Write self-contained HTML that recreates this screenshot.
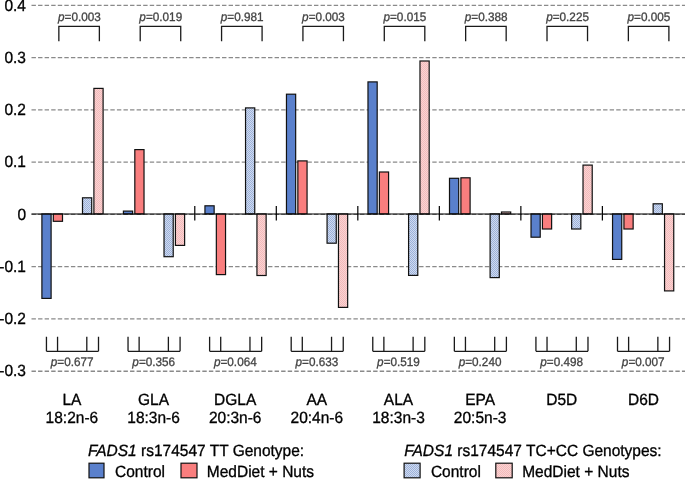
<!DOCTYPE html>
<html><head><meta charset="utf-8"><style>
html,body{margin:0;padding:0;background:#fff;}
body{width:685px;height:480px;overflow:hidden;}
svg{display:block;font-family:"Liberation Sans",sans-serif;text-rendering:geometricPrecision;will-change:transform;}
</style></head><body>
<svg width="685" height="480" viewBox="0 0 685 480">
<defs>
<pattern id="hb" width="2" height="2" patternUnits="userSpaceOnUse">
<rect width="2" height="2" fill="#d0dbef"/><rect width="1" height="1" fill="#9cb1da"/><rect x="1" y="1" width="1" height="1" fill="#9cb1da"/>
</pattern>
<pattern id="hp" width="2" height="2" patternUnits="userSpaceOnUse">
<rect width="2" height="2" fill="#fad3d3"/><rect width="1" height="1" fill="#f3baba"/><rect x="1" y="1" width="1" height="1" fill="#f3baba"/>
</pattern>
</defs>
<rect width="685" height="480" fill="#fff"/>

<line x1="31.5" y1="5.41" x2="685" y2="5.41" stroke="#8a8a8a" stroke-width="1.3" stroke-dasharray="4.4 2.17"/>
<line x1="31.5" y1="57.67" x2="685" y2="57.67" stroke="#8a8a8a" stroke-width="1.3" stroke-dasharray="4.4 2.17"/>
<line x1="31.5" y1="109.93" x2="685" y2="109.93" stroke="#8a8a8a" stroke-width="1.3" stroke-dasharray="4.4 2.17"/>
<line x1="31.5" y1="162.19" x2="685" y2="162.19" stroke="#8a8a8a" stroke-width="1.3" stroke-dasharray="4.4 2.17"/>
<line x1="31.5" y1="214.45" x2="685" y2="214.45" stroke="#8a8a8a" stroke-width="1.3" stroke-dasharray="4.4 2.17"/>
<line x1="31.5" y1="266.71" x2="685" y2="266.71" stroke="#8a8a8a" stroke-width="1.3" stroke-dasharray="4.4 2.17"/>
<line x1="31.5" y1="318.97" x2="685" y2="318.97" stroke="#8a8a8a" stroke-width="1.3" stroke-dasharray="4.4 2.17"/>
<line x1="31.5" y1="371.23" x2="685" y2="371.23" stroke="#8a8a8a" stroke-width="1.3" stroke-dasharray="4.4 2.17"/>
<text transform="translate(26.00,10.61) scale(1,1.05)" font-size="15.5" text-anchor="end" fill="#000" stroke="#000" stroke-width="0.3">0.4</text>
<text transform="translate(26.00,62.87) scale(1,1.05)" font-size="15.5" text-anchor="end" fill="#000" stroke="#000" stroke-width="0.3">0.3</text>
<text transform="translate(26.00,115.13) scale(1,1.05)" font-size="15.5" text-anchor="end" fill="#000" stroke="#000" stroke-width="0.3">0.2</text>
<text transform="translate(26.00,167.39) scale(1,1.05)" font-size="15.5" text-anchor="end" fill="#000" stroke="#000" stroke-width="0.3">0.1</text>
<text transform="translate(26.00,219.65) scale(1,1.05)" font-size="15.5" text-anchor="end" fill="#000" stroke="#000" stroke-width="0.3">0</text>
<text transform="translate(26.00,271.91) scale(1,1.05)" font-size="15.5" text-anchor="end" fill="#000" stroke="#000" stroke-width="0.3">-0.1</text>
<text transform="translate(26.00,324.17) scale(1,1.05)" font-size="15.5" text-anchor="end" fill="#000" stroke="#000" stroke-width="0.3">-0.2</text>
<text transform="translate(26.00,376.43) scale(1,1.05)" font-size="15.5" text-anchor="end" fill="#000" stroke="#000" stroke-width="0.3">-0.3</text>
<rect x="41.90" y="213.95" width="9.20" height="84.45" fill="#5a80cc" stroke="#111" stroke-width="1.2"/>
<rect x="53.30" y="213.95" width="9.20" height="7.35" fill="#f97e7e" stroke="#111" stroke-width="1.2"/>
<rect x="82.50" y="197.80" width="9.20" height="16.15" fill="url(#hb)" stroke="#111" stroke-width="1.2"/>
<rect x="93.90" y="88.40" width="9.20" height="125.55" fill="url(#hp)" stroke="#111" stroke-width="1.2"/>
<rect x="123.42" y="211.10" width="9.20" height="2.85" fill="#5a80cc" stroke="#111" stroke-width="1.2"/>
<rect x="134.82" y="149.60" width="9.20" height="64.35" fill="#f97e7e" stroke="#111" stroke-width="1.2"/>
<rect x="164.02" y="213.95" width="9.20" height="42.75" fill="url(#hb)" stroke="#111" stroke-width="1.2"/>
<rect x="175.42" y="213.95" width="9.20" height="31.45" fill="url(#hp)" stroke="#111" stroke-width="1.2"/>
<rect x="204.94" y="205.80" width="9.20" height="8.15" fill="#5a80cc" stroke="#111" stroke-width="1.2"/>
<rect x="216.34" y="213.95" width="9.20" height="60.65" fill="#f97e7e" stroke="#111" stroke-width="1.2"/>
<rect x="245.54" y="107.90" width="9.20" height="106.05" fill="url(#hb)" stroke="#111" stroke-width="1.2"/>
<rect x="256.94" y="213.95" width="9.20" height="61.55" fill="url(#hp)" stroke="#111" stroke-width="1.2"/>
<rect x="286.46" y="94.20" width="9.20" height="119.75" fill="#5a80cc" stroke="#111" stroke-width="1.2"/>
<rect x="297.86" y="160.90" width="9.20" height="53.05" fill="#f97e7e" stroke="#111" stroke-width="1.2"/>
<rect x="327.06" y="213.95" width="9.20" height="29.25" fill="url(#hb)" stroke="#111" stroke-width="1.2"/>
<rect x="338.46" y="213.95" width="9.20" height="93.45" fill="url(#hp)" stroke="#111" stroke-width="1.2"/>
<rect x="367.98" y="81.90" width="9.20" height="132.05" fill="#5a80cc" stroke="#111" stroke-width="1.2"/>
<rect x="379.38" y="172.00" width="9.20" height="41.95" fill="#f97e7e" stroke="#111" stroke-width="1.2"/>
<rect x="408.58" y="213.95" width="9.20" height="61.45" fill="url(#hb)" stroke="#111" stroke-width="1.2"/>
<rect x="419.98" y="61.00" width="9.20" height="152.95" fill="url(#hp)" stroke="#111" stroke-width="1.2"/>
<rect x="449.50" y="178.30" width="9.20" height="35.65" fill="#5a80cc" stroke="#111" stroke-width="1.2"/>
<rect x="460.90" y="177.80" width="9.20" height="36.15" fill="#f97e7e" stroke="#111" stroke-width="1.2"/>
<rect x="490.10" y="213.95" width="9.20" height="63.65" fill="url(#hb)" stroke="#111" stroke-width="1.2"/>
<rect x="501.50" y="212.00" width="9.20" height="1.95" fill="url(#hp)" stroke="#111" stroke-width="1.2"/>
<rect x="531.02" y="213.95" width="9.20" height="23.25" fill="#5a80cc" stroke="#111" stroke-width="1.2"/>
<rect x="542.42" y="213.95" width="9.20" height="15.05" fill="#f97e7e" stroke="#111" stroke-width="1.2"/>
<rect x="571.62" y="213.95" width="9.20" height="15.05" fill="url(#hb)" stroke="#111" stroke-width="1.2"/>
<rect x="583.02" y="165.10" width="9.20" height="48.85" fill="url(#hp)" stroke="#111" stroke-width="1.2"/>
<rect x="612.54" y="213.95" width="9.20" height="45.45" fill="#5a80cc" stroke="#111" stroke-width="1.2"/>
<rect x="623.94" y="213.95" width="9.20" height="15.05" fill="#f97e7e" stroke="#111" stroke-width="1.2"/>
<rect x="653.14" y="203.80" width="9.20" height="10.15" fill="url(#hb)" stroke="#111" stroke-width="1.2"/>
<rect x="664.54" y="213.95" width="9.20" height="76.95" fill="url(#hp)" stroke="#111" stroke-width="1.2"/>
<line x1="31.5" y1="213.95" x2="685" y2="213.95" stroke="#000" stroke-width="1.15"/>
<line x1="194.78" y1="206" x2="194.78" y2="220.6" stroke="#000" stroke-width="1.2"/>
<line x1="276.30" y1="206" x2="276.30" y2="220.6" stroke="#000" stroke-width="1.2"/>
<line x1="357.82" y1="206" x2="357.82" y2="220.6" stroke="#000" stroke-width="1.2"/>
<line x1="439.34" y1="206" x2="439.34" y2="220.6" stroke="#000" stroke-width="1.2"/>
<line x1="520.86" y1="206" x2="520.86" y2="220.6" stroke="#000" stroke-width="1.2"/>
<line x1="602.38" y1="206" x2="602.38" y2="220.6" stroke="#000" stroke-width="1.2"/>
<path d="M58.85 41.2 V26.45 H99.37 V41.2" fill="none" stroke="#1a1a1a" stroke-width="1.3"/>
<text transform="translate(79.41,20.90) scale(1,1.05)" font-size="11.75" text-anchor="middle" fill="#444" stroke="#444" stroke-width="0.3"><tspan font-style="italic">p</tspan>=0.003</text>
<path d="M140.21 41.2 V26.45 H180.73 V41.2" fill="none" stroke="#1a1a1a" stroke-width="1.3"/>
<text transform="translate(160.77,20.90) scale(1,1.05)" font-size="11.75" text-anchor="middle" fill="#444" stroke="#444" stroke-width="0.3"><tspan font-style="italic">p</tspan>=0.019</text>
<path d="M221.57 41.2 V26.45 H262.09 V41.2" fill="none" stroke="#1a1a1a" stroke-width="1.3"/>
<text transform="translate(242.13,20.90) scale(1,1.05)" font-size="11.75" text-anchor="middle" fill="#444" stroke="#444" stroke-width="0.3"><tspan font-style="italic">p</tspan>=0.981</text>
<path d="M302.93 41.2 V26.45 H343.45 V41.2" fill="none" stroke="#1a1a1a" stroke-width="1.3"/>
<text transform="translate(323.49,20.90) scale(1,1.05)" font-size="11.75" text-anchor="middle" fill="#444" stroke="#444" stroke-width="0.3"><tspan font-style="italic">p</tspan>=0.003</text>
<path d="M384.29 41.2 V26.45 H424.81 V41.2" fill="none" stroke="#1a1a1a" stroke-width="1.3"/>
<text transform="translate(404.85,20.90) scale(1,1.05)" font-size="11.75" text-anchor="middle" fill="#444" stroke="#444" stroke-width="0.3"><tspan font-style="italic">p</tspan>=0.015</text>
<path d="M465.65 41.2 V26.45 H506.17 V41.2" fill="none" stroke="#1a1a1a" stroke-width="1.3"/>
<text transform="translate(486.21,20.90) scale(1,1.05)" font-size="11.75" text-anchor="middle" fill="#444" stroke="#444" stroke-width="0.3"><tspan font-style="italic">p</tspan>=0.388</text>
<path d="M547.01 41.2 V26.45 H587.53 V41.2" fill="none" stroke="#1a1a1a" stroke-width="1.3"/>
<text transform="translate(567.57,20.90) scale(1,1.05)" font-size="11.75" text-anchor="middle" fill="#444" stroke="#444" stroke-width="0.3"><tspan font-style="italic">p</tspan>=0.225</text>
<path d="M628.37 41.2 V26.45 H668.89 V41.2" fill="none" stroke="#1a1a1a" stroke-width="1.3"/>
<text transform="translate(648.93,20.90) scale(1,1.05)" font-size="11.75" text-anchor="middle" fill="#444" stroke="#444" stroke-width="0.3"><tspan font-style="italic">p</tspan>=0.005</text>
<path d="M46.45 336.8 V351.3 M57.55 336.8 V351.3 M86.80 336.8 V351.3 M98.50 336.8 V351.3 M46.45 351.3 H98.50" fill="none" stroke="#1a1a1a" stroke-width="1.3"/>
<text transform="translate(72.17,365.60) scale(1,1.05)" font-size="11.75" text-anchor="middle" fill="#444" stroke="#444" stroke-width="0.3"><tspan font-style="italic">p</tspan>=0.677</text>
<path d="M128.03 336.8 V351.3 M139.13 336.8 V351.3 M168.38 336.8 V351.3 M180.08 336.8 V351.3 M128.03 351.3 H180.08" fill="none" stroke="#1a1a1a" stroke-width="1.3"/>
<text transform="translate(153.75,365.60) scale(1,1.05)" font-size="11.75" text-anchor="middle" fill="#444" stroke="#444" stroke-width="0.3"><tspan font-style="italic">p</tspan>=0.356</text>
<path d="M209.61 336.8 V351.3 M220.71 336.8 V351.3 M249.96 336.8 V351.3 M261.66 336.8 V351.3 M209.61 351.3 H261.66" fill="none" stroke="#1a1a1a" stroke-width="1.3"/>
<text transform="translate(235.33,365.60) scale(1,1.05)" font-size="11.75" text-anchor="middle" fill="#444" stroke="#444" stroke-width="0.3"><tspan font-style="italic">p</tspan>=0.064</text>
<path d="M291.19 336.8 V351.3 M302.29 336.8 V351.3 M331.54 336.8 V351.3 M343.24 336.8 V351.3 M291.19 351.3 H343.24" fill="none" stroke="#1a1a1a" stroke-width="1.3"/>
<text transform="translate(316.92,365.60) scale(1,1.05)" font-size="11.75" text-anchor="middle" fill="#444" stroke="#444" stroke-width="0.3"><tspan font-style="italic">p</tspan>=0.633</text>
<path d="M372.77 336.8 V351.3 M383.87 336.8 V351.3 M413.12 336.8 V351.3 M424.82 336.8 V351.3 M372.77 351.3 H424.82" fill="none" stroke="#1a1a1a" stroke-width="1.3"/>
<text transform="translate(398.49,365.60) scale(1,1.05)" font-size="11.75" text-anchor="middle" fill="#444" stroke="#444" stroke-width="0.3"><tspan font-style="italic">p</tspan>=0.519</text>
<path d="M454.35 336.8 V351.3 M465.45 336.8 V351.3 M494.70 336.8 V351.3 M506.40 336.8 V351.3 M454.35 351.3 H506.40" fill="none" stroke="#1a1a1a" stroke-width="1.3"/>
<text transform="translate(480.07,365.60) scale(1,1.05)" font-size="11.75" text-anchor="middle" fill="#444" stroke="#444" stroke-width="0.3"><tspan font-style="italic">p</tspan>=0.240</text>
<path d="M535.93 336.8 V351.3 M547.03 336.8 V351.3 M576.28 336.8 V351.3 M587.98 336.8 V351.3 M535.93 351.3 H587.98" fill="none" stroke="#1a1a1a" stroke-width="1.3"/>
<text transform="translate(561.66,365.60) scale(1,1.05)" font-size="11.75" text-anchor="middle" fill="#444" stroke="#444" stroke-width="0.3"><tspan font-style="italic">p</tspan>=0.498</text>
<path d="M617.51 336.8 V351.3 M628.61 336.8 V351.3 M657.86 336.8 V351.3 M669.56 336.8 V351.3 M617.51 351.3 H669.56" fill="none" stroke="#1a1a1a" stroke-width="1.3"/>
<text transform="translate(643.24,365.60) scale(1,1.05)" font-size="11.75" text-anchor="middle" fill="#444" stroke="#444" stroke-width="0.3"><tspan font-style="italic">p</tspan>=0.007</text>
<text transform="translate(71.90,404.70) scale(1,1.05)" font-size="15.5" text-anchor="middle" fill="#000" stroke="#000" stroke-width="0.3">LA</text>
<text transform="translate(71.90,422.60) scale(1,1.05)" font-size="15.5" text-anchor="middle" fill="#000" stroke="#000" stroke-width="0.3">18:2n-6</text>
<text transform="translate(153.55,404.70) scale(1,1.05)" font-size="15.5" text-anchor="middle" fill="#000" stroke="#000" stroke-width="0.3">GLA</text>
<text transform="translate(153.55,422.60) scale(1,1.05)" font-size="15.5" text-anchor="middle" fill="#000" stroke="#000" stroke-width="0.3">18:3n-6</text>
<text transform="translate(235.20,404.70) scale(1,1.05)" font-size="15.5" text-anchor="middle" fill="#000" stroke="#000" stroke-width="0.3">DGLA</text>
<text transform="translate(235.20,422.60) scale(1,1.05)" font-size="15.5" text-anchor="middle" fill="#000" stroke="#000" stroke-width="0.3">20:3n-6</text>
<text transform="translate(316.85,404.70) scale(1,1.05)" font-size="15.5" text-anchor="middle" fill="#000" stroke="#000" stroke-width="0.3">AA</text>
<text transform="translate(316.85,422.60) scale(1,1.05)" font-size="15.5" text-anchor="middle" fill="#000" stroke="#000" stroke-width="0.3">20:4n-6</text>
<text transform="translate(398.50,404.70) scale(1,1.05)" font-size="15.5" text-anchor="middle" fill="#000" stroke="#000" stroke-width="0.3">ALA</text>
<text transform="translate(398.50,422.60) scale(1,1.05)" font-size="15.5" text-anchor="middle" fill="#000" stroke="#000" stroke-width="0.3">18:3n-3</text>
<text transform="translate(480.15,404.70) scale(1,1.05)" font-size="15.5" text-anchor="middle" fill="#000" stroke="#000" stroke-width="0.3">EPA</text>
<text transform="translate(480.15,422.60) scale(1,1.05)" font-size="15.5" text-anchor="middle" fill="#000" stroke="#000" stroke-width="0.3">20:5n-3</text>
<text transform="translate(561.80,404.70) scale(1,1.05)" font-size="15.5" text-anchor="middle" fill="#000" stroke="#000" stroke-width="0.3">D5D</text>
<text transform="translate(643.45,404.70) scale(1,1.05)" font-size="15.5" text-anchor="middle" fill="#000" stroke="#000" stroke-width="0.3">D6D</text>
<text transform="translate(87.90,455.90) scale(1,1.05)" font-size="15.5" text-anchor="start" fill="#000" stroke="#000" stroke-width="0.3"><tspan font-style="italic">FADS1</tspan> rs174547 TT Genotype:</text>
<rect x="89" y="463.2" width="15" height="14.6" fill="#5a80cc" stroke="#111" stroke-width="1.2"/>
<text transform="translate(115.00,476.60) scale(1,1.05)" font-size="15.5" text-anchor="start" fill="#000" stroke="#000" stroke-width="0.3">Control</text>
<rect x="181" y="463.2" width="16" height="14.6" fill="#f97e7e" stroke="#111" stroke-width="1.2"/>
<text transform="translate(206.80,476.60) scale(1,1.05)" font-size="15.5" text-anchor="start" fill="#000" stroke="#000" stroke-width="0.3">MedDiet + Nuts</text>
<text transform="translate(404.20,455.90) scale(1,1.05)" font-size="15.5" text-anchor="start" fill="#000" stroke="#000" stroke-width="0.3"><tspan font-style="italic">FADS1</tspan> rs174547 TC+CC Genotypes:</text>
<rect x="404.1" y="463.2" width="16" height="14.6" fill="url(#hb)" stroke="#111" stroke-width="1.2"/>
<text transform="translate(430.90,476.60) scale(1,1.05)" font-size="15.5" text-anchor="start" fill="#000" stroke="#000" stroke-width="0.3">Control</text>
<rect x="495.8" y="463.2" width="16.4" height="14.6" fill="url(#hp)" stroke="#111" stroke-width="1.2"/>
<text transform="translate(522.20,476.60) scale(1,1.05)" font-size="15.5" text-anchor="start" fill="#000" stroke="#000" stroke-width="0.3">MedDiet + Nuts</text>
</svg>
</body></html>
